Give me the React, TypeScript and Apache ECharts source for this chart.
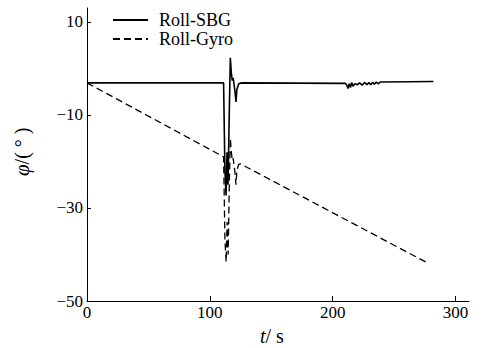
import React, { useEffect, useRef } from "react";
import * as echarts from "echarts";

// Roll angle from the SBG reference unit (time in s, angle in degrees)
const sbgTime = [
  0, 111.2, 112.3, 113.2, 114.0, 114.8, 115.8, 116.7, 117.5, 118.3, 119.0, 120.5,
  121.3, 122.0, 123.5, 126, 210.3, 211.5, 212.5, 213.5, 214.5, 215.5, 216.5, 218,
  220, 222, 224, 226, 228, 229.5, 231, 232.5, 234, 235.5, 237, 239, 241.5, 282,
];
const sbgRoll = [
  -3.1, -3.1, -22, -27.3, -18, -25, -10, 2.3, -1, -2.6, -2.0, -5,
  -7.2, -4.6, -3.3, -3.1, -3.2, -3.6, -4.3, -3.3, -4.1, -3.0, -3.8, -3.3,
  -3.5, -3.1, -3.6, -3.0, -3.5, -3.0, -3.5, -3.0, -3.4, -2.9, -3.3, -2.9, -2.9, -2.8,
];

// Roll angle integrated from the gyro
const gyroTime = [
  0, 111.2, 112.3, 113.3, 114.1, 114.9, 115.8, 116.7, 117.5, 118.3, 119, 120.5,
  121.3, 122, 123.5, 124.8, 276.4,
];
const gyroRoll = [
  -3.1, -19.0, -37, -41.6, -33, -40, -26, -15, -18, -19.8, -19.3, -22.5,
  -25, -22, -20.6, -20.5, -41.7,
];

const xTicks = [0, 100, 200, 300];
const yTicks = [-50, -30, -10, 10];

const FONT = "Liberation Serif, Times New Roman, DejaVu Serif, serif";

const pairs = (xs: number[], ys: number[]) => xs.map((x, i) => [x, ys[i]]);
const fmt = (v: number) => (v < 0 ? "\u2212" + Math.abs(v) : String(v));

export default function App() {
  const ref = useRef<HTMLDivElement>(null);

  useEffect(() => {
    if (!ref.current) return;
    const chart = echarts.init(ref.current, null, { renderer: "svg" });
    chart.setOption({
      animation: false,
      backgroundColor: "#ffffff",
      textStyle: { fontFamily: FONT, color: "#000" },
      grid: { left: 87, right: 13, top: 8, bottom: 47, containLabel: false },
      legend: {
        left: 112,
        top: 11,
        padding: 0,
        orient: "vertical",
        itemWidth: 35,
        itemHeight: 10,
        itemGap: 1,
        itemStyle: { opacity: 0 },
        textStyle: {
          fontFamily: FONT,
          fontSize: 18,
          lineHeight: 18,
          color: "#000",
          padding: [0, 0, 0, 6],
        },
        data: ["Roll-SBG", "Roll-Gyro"],
      },
      xAxis: {
        type: "value",
        min: 0,
        max: 311,
        interval: 100,
        splitLine: { show: false },
        axisLine: { onZero: false, lineStyle: { color: "#000", width: 1 } },
        axisTick: { inside: true, length: 5, customValues: xTicks, lineStyle: { color: "#000" } },
        axisLabel: {
          customValues: xTicks,
          color: "#000",
          fontFamily: FONT,
          fontSize: 17,
          margin: 3,
          formatter: fmt,
        },
      },
      yAxis: {
        type: "value",
        min: -50,
        max: 13,
        interval: 20,
        splitLine: { show: false },
        axisLine: { onZero: false, lineStyle: { color: "#000", width: 1 } },
        axisTick: { inside: true, length: 4, customValues: yTicks, lineStyle: { color: "#000" } },
        axisLabel: {
          customValues: yTicks,
          color: "#000",
          fontFamily: FONT,
          fontSize: 17,
          margin: 4,
          formatter: fmt,
        },
      },
      graphic: [
        {
          type: "text",
          left: 260,
          top: 326,
          style: {
            text: "{i|t}{n|/ s}",
            rich: {
              i: { fontFamily: FONT, fontSize: 20, fontStyle: "italic", fill: "#000" },
              n: { fontFamily: FONT, fontSize: 20, fill: "#000" },
            },
          },
        },
        {
          type: "text",
          x: 11,
          y: 176,
          rotation: Math.PI / 2,
          style: {
            text: "{i|φ}{n|/( ° )}",
            rich: {
              i: { fontFamily: FONT, fontSize: 21, fontStyle: "italic", fill: "#000" },
              n: { fontFamily: FONT, fontSize: 20, fill: "#000" },
            },
          },
        },
      ],
      series: [
        {
          name: "Roll-SBG",
          type: "line",
          symbol: "none",
          data: pairs(sbgTime, sbgRoll),
          lineStyle: { color: "#000", width: 1.6 },
          itemStyle: { color: "#000" },
        },
        {
          name: "Roll-Gyro",
          type: "line",
          symbol: "none",
          data: pairs(gyroTime, gyroRoll),
          lineStyle: { color: "#000", width: 1.3, type: [7, 4] },
          itemStyle: { color: "#000" },
        },
      ],
    });
    return () => chart.dispose();
  }, []);

  return <div ref={ref} style={{ width: 482, height: 348, position: "absolute", left: 0, top: 0 }} />;
}
